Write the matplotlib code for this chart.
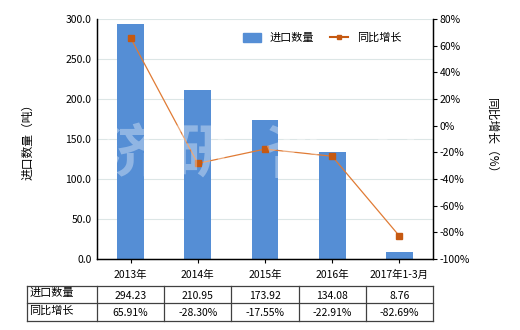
import matplotlib
matplotlib.use('Agg')
import matplotlib.pyplot as plt
from matplotlib.lines import Line2D
import numpy as np

plt.rcParams['font.family'] = ['Noto Sans CJK SC', 'DejaVu Sans']

categories = ['2013年', '2014年', '2015年', '2016年', '2017年1-3月']
qty = [294.23, 210.95, 173.92, 134.08, 8.76]
growth = [65.91, -28.30, -17.55, -22.91, -82.69]
qty_labels = ['294.23', '210.95', '173.92', '134.08', '8.76']
growth_labels = ['65.91%', '-28.30%', '-17.55%', '-22.91%', '-82.69%']

bar_color = '#558ED5'
line_color = '#E07B35'
marker_color = '#C65911'

fig = plt.figure(figsize=(5.2, 3.3), dpi=100)
ax = fig.add_axes([0.1865, 0.2152, 0.646, 0.727])
ax2 = ax.twinx()

x = np.arange(len(categories))
ax.bar(x, qty, width=0.4, color=bar_color, zorder=2, label='进口数量')
ax.set_xlim(-0.5, 4.5)
ax.set_ylim(0, 300)
ax.set_yticks(np.arange(0, 301, 50))
ax.set_yticklabels([f'{v:.1f}' for v in np.arange(0, 301, 50)], fontsize=7.5)
ax.grid(axis='y', color='#DCE6E6', lw=0.8, zorder=0)
ax.set_xticks(x)
ax.set_xticklabels(categories, fontsize=7.5)
ax.tick_params(axis='x', length=3, pad=5)
ax.tick_params(axis='y', length=0, pad=4)
ax.set_ylabel('进口数量（吨）', fontsize=8.5, labelpad=22)

ax2.plot(x, growth, color=line_color, lw=0.9, marker='s', ms=4.5,
         mfc=marker_color, mec=marker_color, zorder=3)
ax2.set_ylim(-100, 80)
ax2.set_yticks(np.arange(-100, 81, 20))
ax2.set_yticklabels([f'{v}%' for v in np.arange(-100, 81, 20)], fontsize=7.5)
ax2.tick_params(axis='y', length=3, pad=2)
ax2.set_ylabel('同比增长（%）', fontsize=8.5, rotation=270, labelpad=20)

for a in (ax, ax2):
    a.spines['top'].set_visible(False)
    for s in ('left', 'right', 'bottom'):
        a.spines[s].set_color('black')
        a.spines[s].set_linewidth(0.9)

# watermark
for cx, ch in zip([0.1, 0.315, 0.585, 0.865], '济研咨询'):
    ax2.text(cx, 0.43, ch, transform=ax.transAxes, fontsize=42, fontweight='bold',
             color='white', alpha=0.35, ha='center', va='center', zorder=5)

# legend
handles = [plt.Rectangle((0, 0), 1, 1, color=bar_color),
           Line2D([0], [0], color=marker_color, lw=1.5, marker='s', ms=3.5,
                  mfc=marker_color, mec=marker_color)]
ax2.legend(handles, ['进口数量', '同比增长'], loc='upper right', ncol=2, frameon=False,
           fontsize=8, bbox_to_anchor=(0.935, 0.985), handlelength=1.6,
           handleheight=0.9, columnspacing=1.4)

# table
x_lab = -0.208
col_edges = [x_lab] + [i / 5 for i in range(6)]
y_rows = [-0.1125, -0.183, -0.258]
kw = dict(transform=ax.transAxes, clip_on=False, color='#404040', lw=0.9)
for yy in y_rows:
    ax.add_line(Line2D([x_lab, 1.0], [yy, yy], **kw))
for xx in col_edges:
    ax.add_line(Line2D([xx, xx], [y_rows[0], y_rows[-1]], **kw))

row_names = ['进口数量', '同比增长']
row_vals = [qty_labels, growth_labels]
for r in range(2):
    ymid = (y_rows[r] + y_rows[r + 1]) / 2
    ax.text(x_lab + 0.006, ymid + 0.005, row_names[r], transform=ax.transAxes,
            fontsize=8, ha='left', va='center')
    for c in range(5):
        ax.text((c + 0.5) / 5, ymid - 0.005, row_vals[r][c], transform=ax.transAxes,
                fontsize=7.5, ha='center', va='center')

fig.savefig('out.png', dpi=100)
